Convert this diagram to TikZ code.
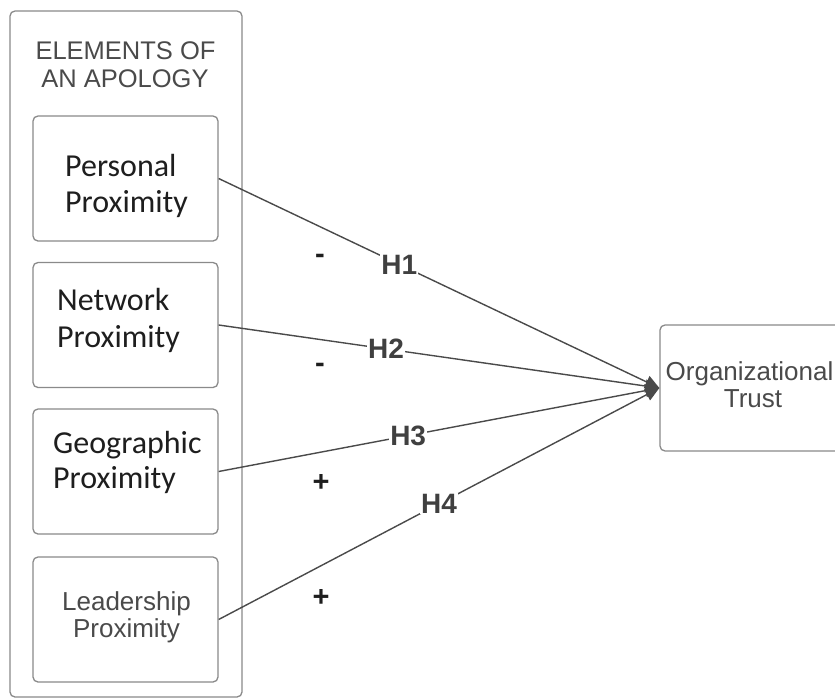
\documentclass[tikz,border=0pt]{standalone}
\usepackage{fontspec}
\setmainfont{Liberation Sans}
\newfontfamily\carl{Carlito}
\usetikzlibrary{arrows.meta}
\definecolor{boxgray}{HTML}{8A8A8A}
\definecolor{linegray}{HTML}{4A4A4A}
\definecolor{txtgray}{HTML}{4A4A4A}
\definecolor{txtdark}{HTML}{1E1E1E}
\tikzset{
  x=1pt, y=-1pt,
  outerbox/.style={draw=boxgray, line width=1.3pt, rounded corners=5pt},
  innerbox/.style={draw=boxgray, line width=1.3pt, rounded corners=5pt, minimum width=185pt, minimum height=125pt, inner sep=0pt},
  titletxt/.style={text=txtgray, font=\fontsize{25.5}{27}\selectfont, inner sep=0pt, anchor=base},
  cal/.style={text=txtdark, font=\carl\fontsize{32}{36}\selectfont, inner sep=0pt, anchor=base west},
  ari/.style={text=txtgray, font=\fontsize{26}{27}\selectfont, inner sep=0pt, anchor=base},
  link/.style={draw=linegray, line width=1.4pt, -{Triangle[length=14pt,width=13pt]}},
  hyp/.style={fill=white, text=txtdark!85!white, font=\bfseries\fontsize{28}{30}\selectfont, inner sep=1pt},
  sign/.style={text=txtdark, font=\bfseries\fontsize{29}{30}\selectfont, inner sep=0pt}
}
\begin{document}
\begin{tikzpicture}
\useasboundingbox (0,0) rectangle (835,699);
\fill[white] (0,0) rectangle (835,699);
\draw[outerbox] (10,11) rectangle (242,697);
\node[titletxt] (t1) at (125.5,59) {ELEMENTS OF};
\node[titletxt] (t2) at (125,87) {AN APOLOGY};

\node[innerbox] (b1) at (125.5,178.5) {};
\node[innerbox] (b2) at (125.5,325) {};
\node[innerbox] (b3) at (125.5,471.5) {};
\node[innerbox] (b4) at (125.5,619.5) {};
\node[draw=boxgray, line width=1.3pt, rounded corners=5pt, minimum width=190pt, minimum height=126pt, inner sep=0pt] (org) at (755,388) {};

\node[cal] (p1) at (65,176) {Personal};
\node[cal] (p2) at (65,212) {Proximity};
\node[cal] (n1) at (57,310) {Network};
\node[cal] (n2) at (57,347) {Proximity};
\node[cal] (g1) at (53,453) {Geographic};
\node[cal] (g2) at (53,488) {Proximity};
\node[ari] (l1) at (126.5,610) {Leadership};
\node[ari] (l2) at (126.5,637) {Proximity};
\node[ari] (o1) at (749.5,380) {Organizational};
\node[ari] (o2) at (753,407) {Trust};

\draw[link] (b1.east) -- node[hyp, pos=0.41] (h1) {H1} (org.west);
\draw[link] (b2.east) -- node[hyp, pos=0.38] (h2) {H2} (org.west);
\draw[link] (b3.east) -- node[hyp, pos=0.43] (h3) {H3} (org.west);
\draw[link] (b4.east) -- node[hyp, pos=0.50] (h4) {H4} (org.west);

\node[sign] (s1) at (320,259) {-};
\node[sign] (s2) at (320,368) {-};
\node[sign] (s3) at (321,483) {+};
\node[sign] (s4) at (321,598) {+};
\end{tikzpicture}
\end{document}
